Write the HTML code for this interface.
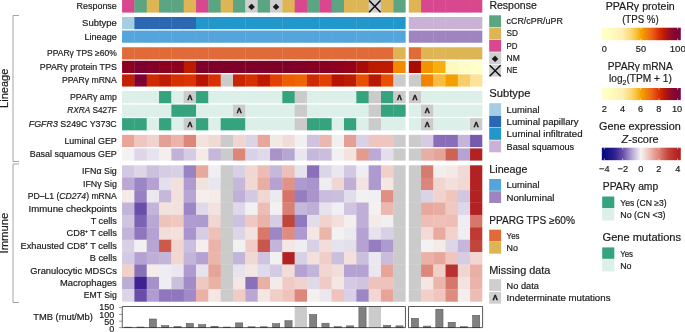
<!DOCTYPE html>
<html lang="en"><head><meta charset="utf-8"><title>PPAR&#947; heatmap</title>
<style>html,body{margin:0;padding:0;background:#fff}body{width:685px;height:332px;overflow:hidden}svg{display:block}text{font-family:'Liberation Sans', 'DejaVu Sans', sans-serif;fill:#1a1a1a;stroke:#1a1a1a;stroke-width:0.18px}</style>
</head><body>
<svg width="685" height="332" viewBox="0 0 685 332">
<defs>
<linearGradient id="gP" x1="0" x2="1" y1="0" y2="0"><stop offset="0" stop-color="#FFFFC8"/><stop offset="0.1" stop-color="#FFFCC0"/><stop offset="0.263" stop-color="#FDEFB0"/><stop offset="0.377" stop-color="#FAD670"/><stop offset="0.45" stop-color="#F7BC30"/><stop offset="0.491" stop-color="#F5A600"/><stop offset="0.55" stop-color="#F28C00"/><stop offset="0.607" stop-color="#EE7018"/><stop offset="0.67" stop-color="#E65010"/><stop offset="0.723" stop-color="#D83000"/><stop offset="0.78" stop-color="#C41C00"/><stop offset="0.84" stop-color="#A01020"/><stop offset="0.9" stop-color="#8A0830"/><stop offset="0.961" stop-color="#7D0038"/><stop offset="1" stop-color="#7A0A40"/></linearGradient>
<linearGradient id="gZ" x1="0" x2="1" y1="0" y2="0"><stop offset="0" stop-color="#0B0B80"/><stop offset="0.04" stop-color="#0B0B80"/><stop offset="0.16" stop-color="#2F2090"/><stop offset="0.27" stop-color="#6A50AC"/><stop offset="0.38" stop-color="#B5A4D3"/><stop offset="0.495" stop-color="#F6F4F4"/><stop offset="0.61" stop-color="#EDBBB2"/><stop offset="0.725" stop-color="#DD8276"/><stop offset="0.84" stop-color="#C4443A"/><stop offset="0.96" stop-color="#B22222"/><stop offset="1" stop-color="#B22222"/></linearGradient>
</defs>
<rect x="0" y="0" width="685" height="332" fill="#fff"/>
<g id="heat">
<rect x="122.05" y="0" width="12.63" height="12.6" fill="#D9478F"/>
<rect x="134.38" y="0" width="12.63" height="12.6" fill="#5BA582"/>
<rect x="146.71" y="0" width="12.63" height="12.6" fill="#DDB554"/>
<rect x="159.04" y="0" width="12.63" height="12.6" fill="#5BA582"/>
<rect x="171.37" y="0" width="12.63" height="12.6" fill="#5BA582"/>
<rect x="183.7" y="0" width="12.63" height="12.6" fill="#DDB554"/>
<rect x="196.03" y="0" width="12.63" height="12.6" fill="#D9478F"/>
<rect x="208.36" y="0" width="12.63" height="12.6" fill="#5BA582"/>
<rect x="220.69" y="0" width="12.63" height="12.6" fill="#DDB554"/>
<rect x="233.02" y="0" width="12.63" height="12.6" fill="#5BA582"/>
<rect x="245.35" y="0" width="12.63" height="12.6" fill="#CFCFCF"/>
<rect x="257.68" y="0" width="12.63" height="12.6" fill="#5BA582"/>
<rect x="270.01" y="0" width="12.63" height="12.6" fill="#CFCFCF"/>
<rect x="282.34" y="0" width="12.63" height="12.6" fill="#DDB554"/>
<rect x="294.67" y="0" width="12.63" height="12.6" fill="#D9478F"/>
<rect x="307" y="0" width="12.63" height="12.6" fill="#5BA582"/>
<rect x="319.33" y="0" width="12.63" height="12.6" fill="#D9478F"/>
<rect x="331.66" y="0" width="12.63" height="12.6" fill="#5BA582"/>
<rect x="343.99" y="0" width="12.63" height="12.6" fill="#DDB554"/>
<rect x="356.32" y="0" width="12.63" height="12.6" fill="#DDB554"/>
<rect x="368.65" y="0" width="12.63" height="12.6" fill="#CFCFCF"/>
<rect x="380.98" y="0" width="12.63" height="12.6" fill="#DDB554"/>
<rect x="393.31" y="0" width="12.33" height="12.6" fill="#5BA582"/>
<rect x="408.8" y="0" width="12.55" height="12.6" fill="#DDB554"/>
<rect x="421.05" y="0" width="12.55" height="12.6" fill="#D9478F"/>
<rect x="433.3" y="0" width="12.55" height="12.6" fill="#D9478F"/>
<rect x="445.55" y="0" width="12.55" height="12.6" fill="#D9478F"/>
<rect x="457.8" y="0" width="12.55" height="12.6" fill="#D9478F"/>
<rect x="470.05" y="0" width="12.25" height="12.6" fill="#D9478F"/>
<rect x="122.05" y="17" width="12.63" height="12.2" fill="#A6CEE3"/>
<rect x="134.38" y="17" width="12.63" height="12.2" fill="#2B68B2"/>
<rect x="146.71" y="17" width="12.63" height="12.2" fill="#2B68B2"/>
<rect x="159.04" y="17" width="12.63" height="12.2" fill="#2B68B2"/>
<rect x="171.37" y="17" width="12.63" height="12.2" fill="#2B68B2"/>
<rect x="183.7" y="17" width="12.63" height="12.2" fill="#2B68B2"/>
<rect x="196.03" y="17" width="12.63" height="12.2" fill="#2297CB"/>
<rect x="208.36" y="17" width="12.63" height="12.2" fill="#2297CB"/>
<rect x="220.69" y="17" width="12.63" height="12.2" fill="#2297CB"/>
<rect x="233.02" y="17" width="12.63" height="12.2" fill="#2297CB"/>
<rect x="245.35" y="17" width="12.63" height="12.2" fill="#2297CB"/>
<rect x="257.68" y="17" width="12.63" height="12.2" fill="#2297CB"/>
<rect x="270.01" y="17" width="12.63" height="12.2" fill="#2297CB"/>
<rect x="282.34" y="17" width="12.63" height="12.2" fill="#2297CB"/>
<rect x="294.67" y="17" width="12.63" height="12.2" fill="#2297CB"/>
<rect x="307" y="17" width="12.63" height="12.2" fill="#2297CB"/>
<rect x="319.33" y="17" width="12.63" height="12.2" fill="#2297CB"/>
<rect x="331.66" y="17" width="12.63" height="12.2" fill="#2297CB"/>
<rect x="343.99" y="17" width="12.63" height="12.2" fill="#2297CB"/>
<rect x="356.32" y="17" width="12.63" height="12.2" fill="#2297CB"/>
<rect x="368.65" y="17" width="12.63" height="12.2" fill="#2297CB"/>
<rect x="380.98" y="17" width="12.63" height="12.2" fill="#2297CB"/>
<rect x="393.31" y="17" width="12.33" height="12.2" fill="#2297CB"/>
<rect x="408.8" y="17" width="12.55" height="12.2" fill="#C9B2D6"/>
<rect x="421.05" y="17" width="12.55" height="12.2" fill="#C9B2D6"/>
<rect x="433.3" y="17" width="12.55" height="12.2" fill="#C9B2D6"/>
<rect x="445.55" y="17" width="12.55" height="12.2" fill="#C9B2D6"/>
<rect x="457.8" y="17" width="12.55" height="12.2" fill="#C9B2D6"/>
<rect x="470.05" y="17" width="12.25" height="12.2" fill="#C9B2D6"/>
<rect x="122.05" y="30.55" width="12.63" height="12.2" fill="#55A4DB"/>
<rect x="134.38" y="30.55" width="12.63" height="12.2" fill="#55A4DB"/>
<rect x="146.71" y="30.55" width="12.63" height="12.2" fill="#55A4DB"/>
<rect x="159.04" y="30.55" width="12.63" height="12.2" fill="#55A4DB"/>
<rect x="171.37" y="30.55" width="12.63" height="12.2" fill="#55A4DB"/>
<rect x="183.7" y="30.55" width="12.63" height="12.2" fill="#55A4DB"/>
<rect x="196.03" y="30.55" width="12.63" height="12.2" fill="#55A4DB"/>
<rect x="208.36" y="30.55" width="12.63" height="12.2" fill="#55A4DB"/>
<rect x="220.69" y="30.55" width="12.63" height="12.2" fill="#55A4DB"/>
<rect x="233.02" y="30.55" width="12.63" height="12.2" fill="#55A4DB"/>
<rect x="245.35" y="30.55" width="12.63" height="12.2" fill="#55A4DB"/>
<rect x="257.68" y="30.55" width="12.63" height="12.2" fill="#55A4DB"/>
<rect x="270.01" y="30.55" width="12.63" height="12.2" fill="#55A4DB"/>
<rect x="282.34" y="30.55" width="12.63" height="12.2" fill="#55A4DB"/>
<rect x="294.67" y="30.55" width="12.63" height="12.2" fill="#55A4DB"/>
<rect x="307" y="30.55" width="12.63" height="12.2" fill="#55A4DB"/>
<rect x="319.33" y="30.55" width="12.63" height="12.2" fill="#55A4DB"/>
<rect x="331.66" y="30.55" width="12.63" height="12.2" fill="#55A4DB"/>
<rect x="343.99" y="30.55" width="12.63" height="12.2" fill="#55A4DB"/>
<rect x="356.32" y="30.55" width="12.63" height="12.2" fill="#55A4DB"/>
<rect x="368.65" y="30.55" width="12.63" height="12.2" fill="#55A4DB"/>
<rect x="380.98" y="30.55" width="12.63" height="12.2" fill="#55A4DB"/>
<rect x="393.31" y="30.55" width="12.33" height="12.2" fill="#55A4DB"/>
<rect x="408.8" y="30.55" width="12.55" height="12.2" fill="#9E85BF"/>
<rect x="421.05" y="30.55" width="12.55" height="12.2" fill="#9E85BF"/>
<rect x="433.3" y="30.55" width="12.55" height="12.2" fill="#9E85BF"/>
<rect x="445.55" y="30.55" width="12.55" height="12.2" fill="#9E85BF"/>
<rect x="457.8" y="30.55" width="12.55" height="12.2" fill="#9E85BF"/>
<rect x="470.05" y="30.55" width="12.25" height="12.2" fill="#9E85BF"/>
<rect x="122.05" y="47.25" width="12.63" height="12.2" fill="#E06B38"/>
<rect x="134.38" y="47.25" width="12.63" height="12.2" fill="#E06B38"/>
<rect x="146.71" y="47.25" width="12.63" height="12.2" fill="#E06B38"/>
<rect x="159.04" y="47.25" width="12.63" height="12.2" fill="#E06B38"/>
<rect x="171.37" y="47.25" width="12.63" height="12.2" fill="#E06B38"/>
<rect x="183.7" y="47.25" width="12.63" height="12.2" fill="#E06B38"/>
<rect x="196.03" y="47.25" width="12.63" height="12.2" fill="#E06B38"/>
<rect x="208.36" y="47.25" width="12.63" height="12.2" fill="#E06B38"/>
<rect x="220.69" y="47.25" width="12.63" height="12.2" fill="#E06B38"/>
<rect x="233.02" y="47.25" width="12.63" height="12.2" fill="#E06B38"/>
<rect x="245.35" y="47.25" width="12.63" height="12.2" fill="#E06B38"/>
<rect x="257.68" y="47.25" width="12.63" height="12.2" fill="#E06B38"/>
<rect x="270.01" y="47.25" width="12.63" height="12.2" fill="#E06B38"/>
<rect x="282.34" y="47.25" width="12.63" height="12.2" fill="#E06B38"/>
<rect x="294.67" y="47.25" width="12.63" height="12.2" fill="#E06B38"/>
<rect x="307" y="47.25" width="12.63" height="12.2" fill="#E06B38"/>
<rect x="319.33" y="47.25" width="12.63" height="12.2" fill="#E06B38"/>
<rect x="331.66" y="47.25" width="12.63" height="12.2" fill="#E06B38"/>
<rect x="343.99" y="47.25" width="12.63" height="12.2" fill="#E06B38"/>
<rect x="356.32" y="47.25" width="12.63" height="12.2" fill="#E06B38"/>
<rect x="368.65" y="47.25" width="12.63" height="12.2" fill="#E06B38"/>
<rect x="380.98" y="47.25" width="12.63" height="12.2" fill="#E06B38"/>
<rect x="393.31" y="47.25" width="12.33" height="12.2" fill="#DDB554"/>
<rect x="408.8" y="47.25" width="12.55" height="12.2" fill="#E06B38"/>
<rect x="421.05" y="47.25" width="12.55" height="12.2" fill="#DDB554"/>
<rect x="433.3" y="47.25" width="12.55" height="12.2" fill="#DDB554"/>
<rect x="445.55" y="47.25" width="12.55" height="12.2" fill="#DDB554"/>
<rect x="457.8" y="47.25" width="12.55" height="12.2" fill="#DDB554"/>
<rect x="470.05" y="47.25" width="12.25" height="12.2" fill="#DDB554"/>
<rect x="122.05" y="60.8" width="12.63" height="12.2" fill="#8C0020"/>
<rect x="134.38" y="60.8" width="12.63" height="12.2" fill="#7D0030"/>
<rect x="146.71" y="60.8" width="12.63" height="12.2" fill="#840028"/>
<rect x="159.04" y="60.8" width="12.63" height="12.2" fill="#8C0020"/>
<rect x="171.37" y="60.8" width="12.63" height="12.2" fill="#8C0020"/>
<rect x="183.7" y="60.8" width="12.63" height="12.2" fill="#BE1A00"/>
<rect x="196.03" y="60.8" width="12.63" height="12.2" fill="#7F0028"/>
<rect x="208.36" y="60.8" width="12.63" height="12.2" fill="#7F0028"/>
<rect x="220.69" y="60.8" width="12.63" height="12.2" fill="#7F0028"/>
<rect x="233.02" y="60.8" width="12.63" height="12.2" fill="#7F0028"/>
<rect x="245.35" y="60.8" width="12.63" height="12.2" fill="#7F0028"/>
<rect x="257.68" y="60.8" width="12.63" height="12.2" fill="#7F0028"/>
<rect x="270.01" y="60.8" width="12.63" height="12.2" fill="#7F0028"/>
<rect x="282.34" y="60.8" width="12.63" height="12.2" fill="#7F0028"/>
<rect x="294.67" y="60.8" width="12.63" height="12.2" fill="#820026"/>
<rect x="307" y="60.8" width="12.63" height="12.2" fill="#860024"/>
<rect x="319.33" y="60.8" width="12.63" height="12.2" fill="#8A0022"/>
<rect x="331.66" y="60.8" width="12.63" height="12.2" fill="#8E0020"/>
<rect x="343.99" y="60.8" width="12.63" height="12.2" fill="#960018"/>
<rect x="356.32" y="60.8" width="12.63" height="12.2" fill="#A80C08"/>
<rect x="368.65" y="60.8" width="12.63" height="12.2" fill="#BE1A00"/>
<rect x="380.98" y="60.8" width="12.63" height="12.2" fill="#BE1A00"/>
<rect x="393.31" y="60.8" width="12.33" height="12.2" fill="#F28A00"/>
<rect x="408.8" y="60.8" width="12.55" height="12.2" fill="#A80C00"/>
<rect x="421.05" y="60.8" width="12.55" height="12.2" fill="#F29400"/>
<rect x="433.3" y="60.8" width="12.55" height="12.2" fill="#F5B010"/>
<rect x="445.55" y="60.8" width="12.55" height="12.2" fill="#FFF8C0"/>
<rect x="457.8" y="60.8" width="12.55" height="12.2" fill="#FFFCC8"/>
<rect x="470.05" y="60.8" width="12.25" height="12.2" fill="#FFFFC8"/>
<rect x="122.05" y="74.35" width="12.63" height="12.2" fill="#C42000"/>
<rect x="134.38" y="74.35" width="12.63" height="12.2" fill="#7D0035"/>
<rect x="146.71" y="74.35" width="12.63" height="12.2" fill="#CE2A00"/>
<rect x="159.04" y="74.35" width="12.63" height="12.2" fill="#C01C00"/>
<rect x="171.37" y="74.35" width="12.63" height="12.2" fill="#D43000"/>
<rect x="183.7" y="74.35" width="12.63" height="12.2" fill="#DC3400"/>
<rect x="196.03" y="74.35" width="12.63" height="12.2" fill="#B81400"/>
<rect x="208.36" y="74.35" width="12.63" height="12.2" fill="#D83000"/>
<rect x="220.69" y="74.35" width="12.63" height="12.2" fill="#CBCBCB"/>
<rect x="233.02" y="74.35" width="12.63" height="12.2" fill="#C82400"/>
<rect x="245.35" y="74.35" width="12.63" height="12.2" fill="#D63000"/>
<rect x="257.68" y="74.35" width="12.63" height="12.2" fill="#BE1800"/>
<rect x="270.01" y="74.35" width="12.63" height="12.2" fill="#E24000"/>
<rect x="282.34" y="74.35" width="12.63" height="12.2" fill="#EC5E00"/>
<rect x="294.67" y="74.35" width="12.63" height="12.2" fill="#EE6400"/>
<rect x="307" y="74.35" width="12.63" height="12.2" fill="#CC2C00"/>
<rect x="319.33" y="74.35" width="12.63" height="12.2" fill="#E24000"/>
<rect x="331.66" y="74.35" width="12.63" height="12.2" fill="#B41400"/>
<rect x="343.99" y="74.35" width="12.63" height="12.2" fill="#BC1C00"/>
<rect x="356.32" y="74.35" width="12.63" height="12.2" fill="#E85000"/>
<rect x="368.65" y="74.35" width="12.63" height="12.2" fill="#B81800"/>
<rect x="380.98" y="74.35" width="12.63" height="12.2" fill="#E85000"/>
<rect x="393.31" y="74.35" width="12.33" height="12.2" fill="#CBCBCB"/>
<rect x="408.8" y="74.35" width="12.55" height="12.2" fill="#CBCBCB"/>
<rect x="421.05" y="74.35" width="12.55" height="12.2" fill="#F28400"/>
<rect x="433.3" y="74.35" width="12.55" height="12.2" fill="#F9BC40"/>
<rect x="445.55" y="74.35" width="12.55" height="12.2" fill="#F59E00"/>
<rect x="457.8" y="74.35" width="12.55" height="12.2" fill="#F9CC68"/>
<rect x="470.05" y="74.35" width="12.25" height="12.2" fill="#FBE398"/>
<rect x="122.05" y="91.05" width="12.63" height="12.2" fill="#DCEFE8"/>
<rect x="134.38" y="91.05" width="12.63" height="12.2" fill="#DCEFE8"/>
<rect x="146.71" y="91.05" width="12.63" height="12.2" fill="#DCEFE8"/>
<rect x="159.04" y="91.05" width="12.63" height="12.2" fill="#35A47E"/>
<rect x="171.37" y="91.05" width="12.63" height="12.2" fill="#DCEFE8"/>
<rect x="183.7" y="91.05" width="12.63" height="12.2" fill="#CBCBCB"/>
<rect x="196.03" y="91.05" width="12.63" height="12.2" fill="#35A47E"/>
<rect x="208.36" y="91.05" width="12.63" height="12.2" fill="#DCEFE8"/>
<rect x="220.69" y="91.05" width="12.63" height="12.2" fill="#DCEFE8"/>
<rect x="233.02" y="91.05" width="12.63" height="12.2" fill="#DCEFE8"/>
<rect x="245.35" y="91.05" width="12.63" height="12.2" fill="#DCEFE8"/>
<rect x="257.68" y="91.05" width="12.63" height="12.2" fill="#DCEFE8"/>
<rect x="270.01" y="91.05" width="12.63" height="12.2" fill="#DCEFE8"/>
<rect x="282.34" y="91.05" width="12.63" height="12.2" fill="#35A47E"/>
<rect x="294.67" y="91.05" width="12.63" height="12.2" fill="#CBCBCB"/>
<rect x="307" y="91.05" width="12.63" height="12.2" fill="#DCEFE8"/>
<rect x="319.33" y="91.05" width="12.63" height="12.2" fill="#DCEFE8"/>
<rect x="331.66" y="91.05" width="12.63" height="12.2" fill="#DCEFE8"/>
<rect x="343.99" y="91.05" width="12.63" height="12.2" fill="#DCEFE8"/>
<rect x="356.32" y="91.05" width="12.63" height="12.2" fill="#35A47E"/>
<rect x="368.65" y="91.05" width="12.63" height="12.2" fill="#CBCBCB"/>
<rect x="380.98" y="91.05" width="12.63" height="12.2" fill="#35A47E"/>
<rect x="393.31" y="91.05" width="12.33" height="12.2" fill="#CBCBCB"/>
<rect x="408.8" y="91.05" width="12.55" height="12.2" fill="#CBCBCB"/>
<rect x="421.05" y="91.05" width="12.55" height="12.2" fill="#DCEFE8"/>
<rect x="433.3" y="91.05" width="12.55" height="12.2" fill="#DCEFE8"/>
<rect x="445.55" y="91.05" width="12.55" height="12.2" fill="#DCEFE8"/>
<rect x="457.8" y="91.05" width="12.55" height="12.2" fill="#DCEFE8"/>
<rect x="470.05" y="91.05" width="12.25" height="12.2" fill="#DCEFE8"/>
<rect x="122.05" y="104.6" width="12.63" height="12.2" fill="#DCEFE8"/>
<rect x="134.38" y="104.6" width="12.63" height="12.2" fill="#DCEFE8"/>
<rect x="146.71" y="104.6" width="12.63" height="12.2" fill="#DCEFE8"/>
<rect x="159.04" y="104.6" width="12.63" height="12.2" fill="#DCEFE8"/>
<rect x="171.37" y="104.6" width="12.63" height="12.2" fill="#35A47E"/>
<rect x="183.7" y="104.6" width="12.63" height="12.2" fill="#35A47E"/>
<rect x="196.03" y="104.6" width="12.63" height="12.2" fill="#DCEFE8"/>
<rect x="208.36" y="104.6" width="12.63" height="12.2" fill="#DCEFE8"/>
<rect x="220.69" y="104.6" width="12.63" height="12.2" fill="#DCEFE8"/>
<rect x="233.02" y="104.6" width="12.63" height="12.2" fill="#CBCBCB"/>
<rect x="245.35" y="104.6" width="12.63" height="12.2" fill="#DCEFE8"/>
<rect x="257.68" y="104.6" width="12.63" height="12.2" fill="#DCEFE8"/>
<rect x="270.01" y="104.6" width="12.63" height="12.2" fill="#DCEFE8"/>
<rect x="282.34" y="104.6" width="12.63" height="12.2" fill="#DCEFE8"/>
<rect x="294.67" y="104.6" width="12.63" height="12.2" fill="#CBCBCB"/>
<rect x="307" y="104.6" width="12.63" height="12.2" fill="#DCEFE8"/>
<rect x="319.33" y="104.6" width="12.63" height="12.2" fill="#DCEFE8"/>
<rect x="331.66" y="104.6" width="12.63" height="12.2" fill="#DCEFE8"/>
<rect x="343.99" y="104.6" width="12.63" height="12.2" fill="#DCEFE8"/>
<rect x="356.32" y="104.6" width="12.63" height="12.2" fill="#DCEFE8"/>
<rect x="368.65" y="104.6" width="12.63" height="12.2" fill="#CBCBCB"/>
<rect x="380.98" y="104.6" width="12.63" height="12.2" fill="#35A47E"/>
<rect x="393.31" y="104.6" width="12.33" height="12.2" fill="#35A47E"/>
<rect x="408.8" y="104.6" width="12.55" height="12.2" fill="#DCEFE8"/>
<rect x="421.05" y="104.6" width="12.55" height="12.2" fill="#CBCBCB"/>
<rect x="433.3" y="104.6" width="12.55" height="12.2" fill="#DCEFE8"/>
<rect x="445.55" y="104.6" width="12.55" height="12.2" fill="#DCEFE8"/>
<rect x="457.8" y="104.6" width="12.55" height="12.2" fill="#DCEFE8"/>
<rect x="470.05" y="104.6" width="12.25" height="12.2" fill="#DCEFE8"/>
<rect x="122.05" y="118.15" width="12.63" height="12.2" fill="#35A47E"/>
<rect x="134.38" y="118.15" width="12.63" height="12.2" fill="#35A47E"/>
<rect x="146.71" y="118.15" width="12.63" height="12.2" fill="#DCEFE8"/>
<rect x="159.04" y="118.15" width="12.63" height="12.2" fill="#35A47E"/>
<rect x="171.37" y="118.15" width="12.63" height="12.2" fill="#DCEFE8"/>
<rect x="183.7" y="118.15" width="12.63" height="12.2" fill="#CBCBCB"/>
<rect x="196.03" y="118.15" width="12.63" height="12.2" fill="#35A47E"/>
<rect x="208.36" y="118.15" width="12.63" height="12.2" fill="#DCEFE8"/>
<rect x="220.69" y="118.15" width="12.63" height="12.2" fill="#35A47E"/>
<rect x="233.02" y="118.15" width="12.63" height="12.2" fill="#35A47E"/>
<rect x="245.35" y="118.15" width="12.63" height="12.2" fill="#DCEFE8"/>
<rect x="257.68" y="118.15" width="12.63" height="12.2" fill="#DCEFE8"/>
<rect x="270.01" y="118.15" width="12.63" height="12.2" fill="#DCEFE8"/>
<rect x="282.34" y="118.15" width="12.63" height="12.2" fill="#DCEFE8"/>
<rect x="294.67" y="118.15" width="12.63" height="12.2" fill="#CBCBCB"/>
<rect x="307" y="118.15" width="12.63" height="12.2" fill="#35A47E"/>
<rect x="319.33" y="118.15" width="12.63" height="12.2" fill="#35A47E"/>
<rect x="331.66" y="118.15" width="12.63" height="12.2" fill="#DCEFE8"/>
<rect x="343.99" y="118.15" width="12.63" height="12.2" fill="#35A47E"/>
<rect x="356.32" y="118.15" width="12.63" height="12.2" fill="#DCEFE8"/>
<rect x="368.65" y="118.15" width="12.63" height="12.2" fill="#CBCBCB"/>
<rect x="380.98" y="118.15" width="12.63" height="12.2" fill="#DCEFE8"/>
<rect x="393.31" y="118.15" width="12.33" height="12.2" fill="#DCEFE8"/>
<rect x="408.8" y="118.15" width="12.55" height="12.2" fill="#DCEFE8"/>
<rect x="421.05" y="118.15" width="12.55" height="12.2" fill="#CBCBCB"/>
<rect x="433.3" y="118.15" width="12.55" height="12.2" fill="#DCEFE8"/>
<rect x="445.55" y="118.15" width="12.55" height="12.2" fill="#DCEFE8"/>
<rect x="457.8" y="118.15" width="12.55" height="12.2" fill="#DCEFE8"/>
<rect x="470.05" y="118.15" width="12.25" height="12.2" fill="#CBCBCB"/>
<rect x="122.05" y="134.85" width="12.63" height="12.2" fill="#E8A59A"/>
<rect x="134.38" y="134.85" width="12.63" height="12.2" fill="#EFC7C0"/>
<rect x="146.71" y="134.85" width="12.63" height="12.2" fill="#F0D2CE"/>
<rect x="159.04" y="134.85" width="12.63" height="12.2" fill="#E5A096"/>
<rect x="171.37" y="134.85" width="12.63" height="12.2" fill="#EAB4AB"/>
<rect x="183.7" y="134.85" width="12.63" height="12.2" fill="#DD877A"/>
<rect x="196.03" y="134.85" width="12.63" height="12.2" fill="#F3E2DE"/>
<rect x="208.36" y="134.85" width="12.63" height="12.2" fill="#F2DAD4"/>
<rect x="220.69" y="134.85" width="12.63" height="12.2" fill="#CBCBCB"/>
<rect x="233.02" y="134.85" width="12.63" height="12.2" fill="#F1D5D0"/>
<rect x="245.35" y="134.85" width="12.63" height="12.2" fill="#DCD4E6"/>
<rect x="257.68" y="134.85" width="12.63" height="12.2" fill="#E8A79B"/>
<rect x="270.01" y="134.85" width="12.63" height="12.2" fill="#F4E8E5"/>
<rect x="282.34" y="134.85" width="12.63" height="12.2" fill="#F2DCD8"/>
<rect x="294.67" y="134.85" width="12.63" height="12.2" fill="#F1F0F1"/>
<rect x="307" y="134.85" width="12.63" height="12.2" fill="#CEC4DF"/>
<rect x="319.33" y="134.85" width="12.63" height="12.2" fill="#EBB8AF"/>
<rect x="331.66" y="134.85" width="12.63" height="12.2" fill="#F1F0F1"/>
<rect x="343.99" y="134.85" width="12.63" height="12.2" fill="#E5A096"/>
<rect x="356.32" y="134.85" width="12.63" height="12.2" fill="#D9D1E6"/>
<rect x="368.65" y="134.85" width="12.63" height="12.2" fill="#EEC6BF"/>
<rect x="380.98" y="134.85" width="12.63" height="12.2" fill="#EEC6BF"/>
<rect x="393.31" y="134.85" width="12.33" height="12.2" fill="#CBCBCB"/>
<rect x="408.8" y="134.85" width="12.55" height="12.2" fill="#CBCBCB"/>
<rect x="421.05" y="134.85" width="12.55" height="12.2" fill="#D6CBE3"/>
<rect x="433.3" y="134.85" width="12.55" height="12.2" fill="#8A6DB8"/>
<rect x="445.55" y="134.85" width="12.55" height="12.2" fill="#8A6DB8"/>
<rect x="457.8" y="134.85" width="12.55" height="12.2" fill="#C6B5DA"/>
<rect x="470.05" y="134.85" width="12.25" height="12.2" fill="#775AAE"/>
<rect x="122.05" y="148.4" width="12.63" height="12.2" fill="#F4F1F1"/>
<rect x="134.38" y="148.4" width="12.63" height="12.2" fill="#DDD6E8"/>
<rect x="146.71" y="148.4" width="12.63" height="12.2" fill="#E6E2EE"/>
<rect x="159.04" y="148.4" width="12.63" height="12.2" fill="#F4EEEC"/>
<rect x="171.37" y="148.4" width="12.63" height="12.2" fill="#C2B2D8"/>
<rect x="183.7" y="148.4" width="12.63" height="12.2" fill="#D5CCE3"/>
<rect x="196.03" y="148.4" width="12.63" height="12.2" fill="#F4EBE8"/>
<rect x="208.36" y="148.4" width="12.63" height="12.2" fill="#C5B7DA"/>
<rect x="220.69" y="148.4" width="12.63" height="12.2" fill="#CBCBCB"/>
<rect x="233.02" y="148.4" width="12.63" height="12.2" fill="#DD8678"/>
<rect x="245.35" y="148.4" width="12.63" height="12.2" fill="#D9D1E6"/>
<rect x="257.68" y="148.4" width="12.63" height="12.2" fill="#DFD9E9"/>
<rect x="270.01" y="148.4" width="12.63" height="12.2" fill="#A893CA"/>
<rect x="282.34" y="148.4" width="12.63" height="12.2" fill="#B7A5D2"/>
<rect x="294.67" y="148.4" width="12.63" height="12.2" fill="#E9E6EF"/>
<rect x="307" y="148.4" width="12.63" height="12.2" fill="#C6B8DB"/>
<rect x="319.33" y="148.4" width="12.63" height="12.2" fill="#CABDDD"/>
<rect x="331.66" y="148.4" width="12.63" height="12.2" fill="#F2F1F2"/>
<rect x="343.99" y="148.4" width="12.63" height="12.2" fill="#F3E2DE"/>
<rect x="356.32" y="148.4" width="12.63" height="12.2" fill="#E39B8F"/>
<rect x="368.65" y="148.4" width="12.63" height="12.2" fill="#BBAAD5"/>
<rect x="380.98" y="148.4" width="12.63" height="12.2" fill="#E3DDEC"/>
<rect x="393.31" y="148.4" width="12.33" height="12.2" fill="#CBCBCB"/>
<rect x="408.8" y="148.4" width="12.55" height="12.2" fill="#CBCBCB"/>
<rect x="421.05" y="148.4" width="12.55" height="12.2" fill="#E6AFA5"/>
<rect x="433.3" y="148.4" width="12.55" height="12.2" fill="#E3A59A"/>
<rect x="445.55" y="148.4" width="12.55" height="12.2" fill="#CD6355"/>
<rect x="457.8" y="148.4" width="12.55" height="12.2" fill="#B7A3D3"/>
<rect x="470.05" y="148.4" width="12.25" height="12.2" fill="#B22222"/>
<rect x="122.05" y="165.3" width="12.63" height="12.7" fill="#D2C8E2"/>
<rect x="134.38" y="165.3" width="12.63" height="12.7" fill="#DCD6E8"/>
<rect x="146.71" y="165.3" width="12.63" height="12.7" fill="#CCC0DF"/>
<rect x="159.04" y="165.3" width="12.63" height="12.7" fill="#D6CDE4"/>
<rect x="171.37" y="165.3" width="12.63" height="12.7" fill="#D8D0E5"/>
<rect x="183.7" y="165.3" width="12.63" height="12.7" fill="#9A83C3"/>
<rect x="196.03" y="165.3" width="12.63" height="12.7" fill="#E8A99D"/>
<rect x="208.36" y="165.3" width="12.63" height="12.7" fill="#F0EFF3"/>
<rect x="220.69" y="165.3" width="12.63" height="12.7" fill="#CBCBCB"/>
<rect x="233.02" y="165.3" width="12.63" height="12.7" fill="#D8D0E5"/>
<rect x="245.35" y="165.3" width="12.63" height="12.7" fill="#F2D6D1"/>
<rect x="257.68" y="165.3" width="12.63" height="12.7" fill="#EDBDB5"/>
<rect x="270.01" y="165.3" width="12.63" height="12.7" fill="#C6B8DB"/>
<rect x="282.34" y="165.3" width="12.63" height="12.7" fill="#EEBFB7"/>
<rect x="294.67" y="165.3" width="12.63" height="12.7" fill="#E6E2EE"/>
<rect x="307" y="165.3" width="12.63" height="12.7" fill="#8A70BA"/>
<rect x="319.33" y="165.3" width="12.63" height="12.7" fill="#DCD5E8"/>
<rect x="331.66" y="165.3" width="12.63" height="12.7" fill="#EAE7F0"/>
<rect x="343.99" y="165.3" width="12.63" height="12.7" fill="#D2C8E2"/>
<rect x="356.32" y="165.3" width="12.63" height="12.7" fill="#EEEDF2"/>
<rect x="368.65" y="165.3" width="12.63" height="12.7" fill="#AE9ACF"/>
<rect x="380.98" y="165.3" width="12.63" height="12.7" fill="#F1D0CA"/>
<rect x="393.31" y="165.3" width="12.33" height="12.7" fill="#CBCBCB"/>
<rect x="408.8" y="165.3" width="12.55" height="12.7" fill="#CBCBCB"/>
<rect x="421.05" y="165.3" width="12.55" height="12.7" fill="#D67B70"/>
<rect x="433.3" y="165.3" width="12.55" height="12.7" fill="#F2EEEE"/>
<rect x="445.55" y="165.3" width="12.55" height="12.7" fill="#F3EAE8"/>
<rect x="457.8" y="165.3" width="12.55" height="12.7" fill="#F1DAD5"/>
<rect x="470.05" y="165.3" width="12.25" height="12.7" fill="#B22222"/>
<rect x="122.05" y="177.7" width="12.63" height="12.7" fill="#BBA9D5"/>
<rect x="134.38" y="177.7" width="12.63" height="12.7" fill="#9C85C4"/>
<rect x="146.71" y="177.7" width="12.63" height="12.7" fill="#B5A2D2"/>
<rect x="159.04" y="177.7" width="12.63" height="12.7" fill="#E4DFEC"/>
<rect x="171.37" y="177.7" width="12.63" height="12.7" fill="#F3E0DC"/>
<rect x="183.7" y="177.7" width="12.63" height="12.7" fill="#B09CD0"/>
<rect x="196.03" y="177.7" width="12.63" height="12.7" fill="#F3E3DF"/>
<rect x="208.36" y="177.7" width="12.63" height="12.7" fill="#EAE6EF"/>
<rect x="220.69" y="177.7" width="12.63" height="12.7" fill="#CBCBCB"/>
<rect x="233.02" y="177.7" width="12.63" height="12.7" fill="#C6B8DB"/>
<rect x="245.35" y="177.7" width="12.63" height="12.7" fill="#F2D8D3"/>
<rect x="257.68" y="177.7" width="12.63" height="12.7" fill="#E8AEA3"/>
<rect x="270.01" y="177.7" width="12.63" height="12.7" fill="#B5A2D2"/>
<rect x="282.34" y="177.7" width="12.63" height="12.7" fill="#E09488"/>
<rect x="294.67" y="177.7" width="12.63" height="12.7" fill="#AE9ACF"/>
<rect x="307" y="177.7" width="12.63" height="12.7" fill="#A994CC"/>
<rect x="319.33" y="177.7" width="12.63" height="12.7" fill="#EEEDF2"/>
<rect x="331.66" y="177.7" width="12.63" height="12.7" fill="#F2D6D1"/>
<rect x="343.99" y="177.7" width="12.63" height="12.7" fill="#BFAFD7"/>
<rect x="356.32" y="177.7" width="12.63" height="12.7" fill="#F4E4E0"/>
<rect x="368.65" y="177.7" width="12.63" height="12.7" fill="#AE9ACF"/>
<rect x="380.98" y="177.7" width="12.63" height="12.7" fill="#F4E6E3"/>
<rect x="393.31" y="177.7" width="12.33" height="12.7" fill="#CBCBCB"/>
<rect x="408.8" y="177.7" width="12.55" height="12.7" fill="#CBCBCB"/>
<rect x="421.05" y="177.7" width="12.55" height="12.7" fill="#DC857A"/>
<rect x="433.3" y="177.7" width="12.55" height="12.7" fill="#F1D5D0"/>
<rect x="445.55" y="177.7" width="12.55" height="12.7" fill="#F3DFDB"/>
<rect x="457.8" y="177.7" width="12.55" height="12.7" fill="#F2D8D3"/>
<rect x="470.05" y="177.7" width="12.25" height="12.7" fill="#B22222"/>
<rect x="122.05" y="190.1" width="12.63" height="12.7" fill="#F4EAE7"/>
<rect x="134.38" y="190.1" width="12.63" height="12.7" fill="#9881C2"/>
<rect x="146.71" y="190.1" width="12.63" height="12.7" fill="#EBE8EF"/>
<rect x="159.04" y="190.1" width="12.63" height="12.7" fill="#C6B8DB"/>
<rect x="171.37" y="190.1" width="12.63" height="12.7" fill="#F3DFDC"/>
<rect x="183.7" y="190.1" width="12.63" height="12.7" fill="#B7A5D3"/>
<rect x="196.03" y="190.1" width="12.63" height="12.7" fill="#F5EEEC"/>
<rect x="208.36" y="190.1" width="12.63" height="12.7" fill="#F4ECE9"/>
<rect x="220.69" y="190.1" width="12.63" height="12.7" fill="#CBCBCB"/>
<rect x="233.02" y="190.1" width="12.63" height="12.7" fill="#C0B0D8"/>
<rect x="245.35" y="190.1" width="12.63" height="12.7" fill="#D3C9E2"/>
<rect x="257.68" y="190.1" width="12.63" height="12.7" fill="#F2D6D2"/>
<rect x="270.01" y="190.1" width="12.63" height="12.7" fill="#ECEAF1"/>
<rect x="282.34" y="190.1" width="12.63" height="12.7" fill="#D77368"/>
<rect x="294.67" y="190.1" width="12.63" height="12.7" fill="#957DC0"/>
<rect x="307" y="190.1" width="12.63" height="12.7" fill="#A994CC"/>
<rect x="319.33" y="190.1" width="12.63" height="12.7" fill="#C9BCDD"/>
<rect x="331.66" y="190.1" width="12.63" height="12.7" fill="#CBBFDE"/>
<rect x="343.99" y="190.1" width="12.63" height="12.7" fill="#E2DDEB"/>
<rect x="356.32" y="190.1" width="12.63" height="12.7" fill="#F2F1F2"/>
<rect x="368.65" y="190.1" width="12.63" height="12.7" fill="#F0EFF2"/>
<rect x="380.98" y="190.1" width="12.63" height="12.7" fill="#E08F84"/>
<rect x="393.31" y="190.1" width="12.33" height="12.7" fill="#CBCBCB"/>
<rect x="408.8" y="190.1" width="12.55" height="12.7" fill="#CBCBCB"/>
<rect x="421.05" y="190.1" width="12.55" height="12.7" fill="#DAD3E7"/>
<rect x="433.3" y="190.1" width="12.55" height="12.7" fill="#F1D2CC"/>
<rect x="445.55" y="190.1" width="12.55" height="12.7" fill="#EFC5BE"/>
<rect x="457.8" y="190.1" width="12.55" height="12.7" fill="#D0C7E2"/>
<rect x="470.05" y="190.1" width="12.25" height="12.7" fill="#B22222"/>
<rect x="122.05" y="202.5" width="12.63" height="12.7" fill="#C3B4DA"/>
<rect x="134.38" y="202.5" width="12.63" height="12.7" fill="#6B4EA9"/>
<rect x="146.71" y="202.5" width="12.63" height="12.7" fill="#C3B4DA"/>
<rect x="159.04" y="202.5" width="12.63" height="12.7" fill="#F3E1DD"/>
<rect x="171.37" y="202.5" width="12.63" height="12.7" fill="#F3E1DD"/>
<rect x="183.7" y="202.5" width="12.63" height="12.7" fill="#9C86C4"/>
<rect x="196.03" y="202.5" width="12.63" height="12.7" fill="#DFD9EA"/>
<rect x="208.36" y="202.5" width="12.63" height="12.7" fill="#F3E2DF"/>
<rect x="220.69" y="202.5" width="12.63" height="12.7" fill="#CBCBCB"/>
<rect x="233.02" y="202.5" width="12.63" height="12.7" fill="#DFD8EA"/>
<rect x="245.35" y="202.5" width="12.63" height="12.7" fill="#F2F1F2"/>
<rect x="257.68" y="202.5" width="12.63" height="12.7" fill="#EDBDB5"/>
<rect x="270.01" y="202.5" width="12.63" height="12.7" fill="#F2F1F2"/>
<rect x="282.34" y="202.5" width="12.63" height="12.7" fill="#D98075"/>
<rect x="294.67" y="202.5" width="12.63" height="12.7" fill="#C6B8DB"/>
<rect x="307" y="202.5" width="12.63" height="12.7" fill="#BFAFD7"/>
<rect x="319.33" y="202.5" width="12.63" height="12.7" fill="#E6E2EE"/>
<rect x="331.66" y="202.5" width="12.63" height="12.7" fill="#F0EFF2"/>
<rect x="343.99" y="202.5" width="12.63" height="12.7" fill="#D0C5E1"/>
<rect x="356.32" y="202.5" width="12.63" height="12.7" fill="#BFAFD7"/>
<rect x="368.65" y="202.5" width="12.63" height="12.7" fill="#F4F0EF"/>
<rect x="380.98" y="202.5" width="12.63" height="12.7" fill="#ECB7AE"/>
<rect x="393.31" y="202.5" width="12.33" height="12.7" fill="#CBCBCB"/>
<rect x="408.8" y="202.5" width="12.55" height="12.7" fill="#CBCBCB"/>
<rect x="421.05" y="202.5" width="12.55" height="12.7" fill="#E7A89E"/>
<rect x="433.3" y="202.5" width="12.55" height="12.7" fill="#E8ACA2"/>
<rect x="445.55" y="202.5" width="12.55" height="12.7" fill="#EFC8C1"/>
<rect x="457.8" y="202.5" width="12.55" height="12.7" fill="#DDD7E9"/>
<rect x="470.05" y="202.5" width="12.25" height="12.7" fill="#B22222"/>
<rect x="122.05" y="214.9" width="12.63" height="12.7" fill="#CFC5E1"/>
<rect x="134.38" y="214.9" width="12.63" height="12.7" fill="#7C62B3"/>
<rect x="146.71" y="214.9" width="12.63" height="12.7" fill="#B9A7D4"/>
<rect x="159.04" y="214.9" width="12.63" height="12.7" fill="#EEC3BC"/>
<rect x="171.37" y="214.9" width="12.63" height="12.7" fill="#EFC8C1"/>
<rect x="183.7" y="214.9" width="12.63" height="12.7" fill="#B09CD0"/>
<rect x="196.03" y="214.9" width="12.63" height="12.7" fill="#AE9ACF"/>
<rect x="208.36" y="214.9" width="12.63" height="12.7" fill="#F2D6D1"/>
<rect x="220.69" y="214.9" width="12.63" height="12.7" fill="#CBCBCB"/>
<rect x="233.02" y="214.9" width="12.63" height="12.7" fill="#CDC1DF"/>
<rect x="245.35" y="214.9" width="12.63" height="12.7" fill="#EFC8C2"/>
<rect x="257.68" y="214.9" width="12.63" height="12.7" fill="#EAB2A8"/>
<rect x="270.01" y="214.9" width="12.63" height="12.7" fill="#D6CDE4"/>
<rect x="282.34" y="214.9" width="12.63" height="12.7" fill="#C0453A"/>
<rect x="294.67" y="214.9" width="12.63" height="12.7" fill="#9079BE"/>
<rect x="307" y="214.9" width="12.63" height="12.7" fill="#E2DDEB"/>
<rect x="319.33" y="214.9" width="12.63" height="12.7" fill="#F2D2CC"/>
<rect x="331.66" y="214.9" width="12.63" height="12.7" fill="#F3DFDB"/>
<rect x="343.99" y="214.9" width="12.63" height="12.7" fill="#F4EFEE"/>
<rect x="356.32" y="214.9" width="12.63" height="12.7" fill="#BFAFD7"/>
<rect x="368.65" y="214.9" width="12.63" height="12.7" fill="#F4EAE7"/>
<rect x="380.98" y="214.9" width="12.63" height="12.7" fill="#F0EFF2"/>
<rect x="393.31" y="214.9" width="12.33" height="12.7" fill="#CBCBCB"/>
<rect x="408.8" y="214.9" width="12.55" height="12.7" fill="#CBCBCB"/>
<rect x="421.05" y="214.9" width="12.55" height="12.7" fill="#EEBDB5"/>
<rect x="433.3" y="214.9" width="12.55" height="12.7" fill="#EEC0B8"/>
<rect x="445.55" y="214.9" width="12.55" height="12.7" fill="#EEBDB5"/>
<rect x="457.8" y="214.9" width="12.55" height="12.7" fill="#EFEDF2"/>
<rect x="470.05" y="214.9" width="12.25" height="12.7" fill="#D6776C"/>
<rect x="122.05" y="227.3" width="12.63" height="12.7" fill="#C3B4DA"/>
<rect x="134.38" y="227.3" width="12.63" height="12.7" fill="#8F76BD"/>
<rect x="146.71" y="227.3" width="12.63" height="12.7" fill="#B5A2D2"/>
<rect x="159.04" y="227.3" width="12.63" height="12.7" fill="#F3DDD9"/>
<rect x="171.37" y="227.3" width="12.63" height="12.7" fill="#F3E0DC"/>
<rect x="183.7" y="227.3" width="12.63" height="12.7" fill="#A994CC"/>
<rect x="196.03" y="227.3" width="12.63" height="12.7" fill="#D6CDE4"/>
<rect x="208.36" y="227.3" width="12.63" height="12.7" fill="#EEC0B8"/>
<rect x="220.69" y="227.3" width="12.63" height="12.7" fill="#CBCBCB"/>
<rect x="233.02" y="227.3" width="12.63" height="12.7" fill="#DCD5E8"/>
<rect x="245.35" y="227.3" width="12.63" height="12.7" fill="#F3E3DF"/>
<rect x="257.68" y="227.3" width="12.63" height="12.7" fill="#D9776A"/>
<rect x="270.01" y="227.3" width="12.63" height="12.7" fill="#9C86C4"/>
<rect x="282.34" y="227.3" width="12.63" height="12.7" fill="#DF8C80"/>
<rect x="294.67" y="227.3" width="12.63" height="12.7" fill="#AE9ACF"/>
<rect x="307" y="227.3" width="12.63" height="12.7" fill="#F4E6E3"/>
<rect x="319.33" y="227.3" width="12.63" height="12.7" fill="#EBB5AC"/>
<rect x="331.66" y="227.3" width="12.63" height="12.7" fill="#F2F1F2"/>
<rect x="343.99" y="227.3" width="12.63" height="12.7" fill="#ECEAF1"/>
<rect x="356.32" y="227.3" width="12.63" height="12.7" fill="#B5A2D2"/>
<rect x="368.65" y="227.3" width="12.63" height="12.7" fill="#E6E2EE"/>
<rect x="380.98" y="227.3" width="12.63" height="12.7" fill="#D8D0E5"/>
<rect x="393.31" y="227.3" width="12.33" height="12.7" fill="#CBCBCB"/>
<rect x="408.8" y="227.3" width="12.55" height="12.7" fill="#CBCBCB"/>
<rect x="421.05" y="227.3" width="12.55" height="12.7" fill="#F3DAD5"/>
<rect x="433.3" y="227.3" width="12.55" height="12.7" fill="#E9A99F"/>
<rect x="445.55" y="227.3" width="12.55" height="12.7" fill="#F1D2CC"/>
<rect x="457.8" y="227.3" width="12.55" height="12.7" fill="#EFEEF2"/>
<rect x="470.05" y="227.3" width="12.25" height="12.7" fill="#BF3A32"/>
<rect x="122.05" y="239.7" width="12.63" height="12.7" fill="#D8D0E5"/>
<rect x="134.38" y="239.7" width="12.63" height="12.7" fill="#F2F1F2"/>
<rect x="146.71" y="239.7" width="12.63" height="12.7" fill="#B7A5D3"/>
<rect x="159.04" y="239.7" width="12.63" height="12.7" fill="#CC5A4C"/>
<rect x="171.37" y="239.7" width="12.63" height="12.7" fill="#F2D5D0"/>
<rect x="183.7" y="239.7" width="12.63" height="12.7" fill="#CBBEDE"/>
<rect x="196.03" y="239.7" width="12.63" height="12.7" fill="#F4EFEE"/>
<rect x="208.36" y="239.7" width="12.63" height="12.7" fill="#EBB3AA"/>
<rect x="220.69" y="239.7" width="12.63" height="12.7" fill="#CBCBCB"/>
<rect x="233.02" y="239.7" width="12.63" height="12.7" fill="#F2F1F2"/>
<rect x="245.35" y="239.7" width="12.63" height="12.7" fill="#F0CDC7"/>
<rect x="257.68" y="239.7" width="12.63" height="12.7" fill="#C9564A"/>
<rect x="270.01" y="239.7" width="12.63" height="12.7" fill="#C3B4DA"/>
<rect x="282.34" y="239.7" width="12.63" height="12.7" fill="#F4E6E3"/>
<rect x="294.67" y="239.7" width="12.63" height="12.7" fill="#EEEDF2"/>
<rect x="307" y="239.7" width="12.63" height="12.7" fill="#D8D0E5"/>
<rect x="319.33" y="239.7" width="12.63" height="12.7" fill="#F3DDD9"/>
<rect x="331.66" y="239.7" width="12.63" height="12.7" fill="#E6E2EE"/>
<rect x="343.99" y="239.7" width="12.63" height="12.7" fill="#E4DFEC"/>
<rect x="356.32" y="239.7" width="12.63" height="12.7" fill="#B5A2D2"/>
<rect x="368.65" y="239.7" width="12.63" height="12.7" fill="#957DC0"/>
<rect x="380.98" y="239.7" width="12.63" height="12.7" fill="#AE9ACF"/>
<rect x="393.31" y="239.7" width="12.33" height="12.7" fill="#CBCBCB"/>
<rect x="408.8" y="239.7" width="12.55" height="12.7" fill="#CBCBCB"/>
<rect x="421.05" y="239.7" width="12.55" height="12.7" fill="#F3F2F3"/>
<rect x="433.3" y="239.7" width="12.55" height="12.7" fill="#F4EAE7"/>
<rect x="445.55" y="239.7" width="12.55" height="12.7" fill="#DDD6E9"/>
<rect x="457.8" y="239.7" width="12.55" height="12.7" fill="#C5B7DC"/>
<rect x="470.05" y="239.7" width="12.25" height="12.7" fill="#C3443A"/>
<rect x="122.05" y="252.1" width="12.63" height="12.7" fill="#D4CAE3"/>
<rect x="134.38" y="252.1" width="12.63" height="12.7" fill="#B5A2D2"/>
<rect x="146.71" y="252.1" width="12.63" height="12.7" fill="#BFAFD7"/>
<rect x="159.04" y="252.1" width="12.63" height="12.7" fill="#C3B4DA"/>
<rect x="171.37" y="252.1" width="12.63" height="12.7" fill="#F2D6D1"/>
<rect x="183.7" y="252.1" width="12.63" height="12.7" fill="#C3B4DA"/>
<rect x="196.03" y="252.1" width="12.63" height="12.7" fill="#B5A2D2"/>
<rect x="208.36" y="252.1" width="12.63" height="12.7" fill="#EBB5AC"/>
<rect x="220.69" y="252.1" width="12.63" height="12.7" fill="#CBCBCB"/>
<rect x="233.02" y="252.1" width="12.63" height="12.7" fill="#C3B4DA"/>
<rect x="245.35" y="252.1" width="12.63" height="12.7" fill="#F2D8D3"/>
<rect x="257.68" y="252.1" width="12.63" height="12.7" fill="#CEC3E0"/>
<rect x="270.01" y="252.1" width="12.63" height="12.7" fill="#F2F1F2"/>
<rect x="282.34" y="252.1" width="12.63" height="12.7" fill="#B22222"/>
<rect x="294.67" y="252.1" width="12.63" height="12.7" fill="#D8D0E5"/>
<rect x="307" y="252.1" width="12.63" height="12.7" fill="#F3DFDB"/>
<rect x="319.33" y="252.1" width="12.63" height="12.7" fill="#F0CDC7"/>
<rect x="331.66" y="252.1" width="12.63" height="12.7" fill="#CBBFDE"/>
<rect x="343.99" y="252.1" width="12.63" height="12.7" fill="#F3E0DC"/>
<rect x="356.32" y="252.1" width="12.63" height="12.7" fill="#CBBFDE"/>
<rect x="368.65" y="252.1" width="12.63" height="12.7" fill="#EAE7F0"/>
<rect x="380.98" y="252.1" width="12.63" height="12.7" fill="#C9BCDD"/>
<rect x="393.31" y="252.1" width="12.33" height="12.7" fill="#CBCBCB"/>
<rect x="408.8" y="252.1" width="12.55" height="12.7" fill="#CBCBCB"/>
<rect x="421.05" y="252.1" width="12.55" height="12.7" fill="#EBB0A6"/>
<rect x="433.3" y="252.1" width="12.55" height="12.7" fill="#E8A79C"/>
<rect x="445.55" y="252.1" width="12.55" height="12.7" fill="#EFC5BE"/>
<rect x="457.8" y="252.1" width="12.55" height="12.7" fill="#D6CDE5"/>
<rect x="470.05" y="252.1" width="12.25" height="12.7" fill="#F2D6D1"/>
<rect x="122.05" y="264.5" width="12.63" height="12.7" fill="#F1D0CA"/>
<rect x="134.38" y="264.5" width="12.63" height="12.7" fill="#8A70BA"/>
<rect x="146.71" y="264.5" width="12.63" height="12.7" fill="#F4ECEA"/>
<rect x="159.04" y="264.5" width="12.63" height="12.7" fill="#EEEDF2"/>
<rect x="171.37" y="264.5" width="12.63" height="12.7" fill="#EAE7F0"/>
<rect x="183.7" y="264.5" width="12.63" height="12.7" fill="#AF9BCF"/>
<rect x="196.03" y="264.5" width="12.63" height="12.7" fill="#E6E2EE"/>
<rect x="208.36" y="264.5" width="12.63" height="12.7" fill="#E6A398"/>
<rect x="220.69" y="264.5" width="12.63" height="12.7" fill="#CBCBCB"/>
<rect x="233.02" y="264.5" width="12.63" height="12.7" fill="#E6E2EE"/>
<rect x="245.35" y="264.5" width="12.63" height="12.7" fill="#F4E6E3"/>
<rect x="257.68" y="264.5" width="12.63" height="12.7" fill="#E0DAEA"/>
<rect x="270.01" y="264.5" width="12.63" height="12.7" fill="#D4CAE3"/>
<rect x="282.34" y="264.5" width="12.63" height="12.7" fill="#F3DDD9"/>
<rect x="294.67" y="264.5" width="12.63" height="12.7" fill="#B5A2D2"/>
<rect x="307" y="264.5" width="12.63" height="12.7" fill="#C3B4DA"/>
<rect x="319.33" y="264.5" width="12.63" height="12.7" fill="#F2D6D1"/>
<rect x="331.66" y="264.5" width="12.63" height="12.7" fill="#F3DDD9"/>
<rect x="343.99" y="264.5" width="12.63" height="12.7" fill="#B5A2D2"/>
<rect x="356.32" y="264.5" width="12.63" height="12.7" fill="#B5A2D2"/>
<rect x="368.65" y="264.5" width="12.63" height="12.7" fill="#EAE7F0"/>
<rect x="380.98" y="264.5" width="12.63" height="12.7" fill="#E8A499"/>
<rect x="393.31" y="264.5" width="12.33" height="12.7" fill="#CBCBCB"/>
<rect x="408.8" y="264.5" width="12.55" height="12.7" fill="#CBCBCB"/>
<rect x="421.05" y="264.5" width="12.55" height="12.7" fill="#DE887C"/>
<rect x="433.3" y="264.5" width="12.55" height="12.7" fill="#F1D0CA"/>
<rect x="445.55" y="264.5" width="12.55" height="12.7" fill="#B93030"/>
<rect x="457.8" y="264.5" width="12.55" height="12.7" fill="#F1D5D0"/>
<rect x="470.05" y="264.5" width="12.25" height="12.7" fill="#EAAFA5"/>
<rect x="122.05" y="276.9" width="12.63" height="12.7" fill="#BDACD6"/>
<rect x="134.38" y="276.9" width="12.63" height="12.7" fill="#3F2290"/>
<rect x="146.71" y="276.9" width="12.63" height="12.7" fill="#A691CA"/>
<rect x="159.04" y="276.9" width="12.63" height="12.7" fill="#EEEDF2"/>
<rect x="171.37" y="276.9" width="12.63" height="12.7" fill="#CBBFDE"/>
<rect x="183.7" y="276.9" width="12.63" height="12.7" fill="#A28CC8"/>
<rect x="196.03" y="276.9" width="12.63" height="12.7" fill="#EFC8C1"/>
<rect x="208.36" y="276.9" width="12.63" height="12.7" fill="#EBB0A6"/>
<rect x="220.69" y="276.9" width="12.63" height="12.7" fill="#CBCBCB"/>
<rect x="233.02" y="276.9" width="12.63" height="12.7" fill="#F4E6E3"/>
<rect x="245.35" y="276.9" width="12.63" height="12.7" fill="#8A70BA"/>
<rect x="257.68" y="276.9" width="12.63" height="12.7" fill="#EAAFA5"/>
<rect x="270.01" y="276.9" width="12.63" height="12.7" fill="#F4EAE7"/>
<rect x="282.34" y="276.9" width="12.63" height="12.7" fill="#F0CAC4"/>
<rect x="294.67" y="276.9" width="12.63" height="12.7" fill="#F2D2CC"/>
<rect x="307" y="276.9" width="12.63" height="12.7" fill="#DFD9EA"/>
<rect x="319.33" y="276.9" width="12.63" height="12.7" fill="#F0CAC4"/>
<rect x="331.66" y="276.9" width="12.63" height="12.7" fill="#F4E6E3"/>
<rect x="343.99" y="276.9" width="12.63" height="12.7" fill="#D4CAE3"/>
<rect x="356.32" y="276.9" width="12.63" height="12.7" fill="#D0C5E1"/>
<rect x="368.65" y="276.9" width="12.63" height="12.7" fill="#EFC3BC"/>
<rect x="380.98" y="276.9" width="12.63" height="12.7" fill="#EFC3BC"/>
<rect x="393.31" y="276.9" width="12.33" height="12.7" fill="#CBCBCB"/>
<rect x="408.8" y="276.9" width="12.55" height="12.7" fill="#CBCBCB"/>
<rect x="421.05" y="276.9" width="12.55" height="12.7" fill="#F4E6E3"/>
<rect x="433.3" y="276.9" width="12.55" height="12.7" fill="#ECB5AC"/>
<rect x="445.55" y="276.9" width="12.55" height="12.7" fill="#D6776C"/>
<rect x="457.8" y="276.9" width="12.55" height="12.7" fill="#F3E3E0"/>
<rect x="470.05" y="276.9" width="12.25" height="12.7" fill="#EBB3A9"/>
<rect x="122.05" y="289.3" width="12.63" height="12.4" fill="#DCD5E8"/>
<rect x="134.38" y="289.3" width="12.63" height="12.4" fill="#6A4DA8"/>
<rect x="146.71" y="289.3" width="12.63" height="12.4" fill="#B09CD0"/>
<rect x="159.04" y="289.3" width="12.63" height="12.4" fill="#8F76BD"/>
<rect x="171.37" y="289.3" width="12.63" height="12.4" fill="#8F76BD"/>
<rect x="183.7" y="289.3" width="12.63" height="12.4" fill="#A08AC7"/>
<rect x="196.03" y="289.3" width="12.63" height="12.4" fill="#EBB0A6"/>
<rect x="208.36" y="289.3" width="12.63" height="12.4" fill="#F4E6E3"/>
<rect x="220.69" y="289.3" width="12.63" height="12.4" fill="#CBCBCB"/>
<rect x="233.02" y="289.3" width="12.63" height="12.4" fill="#F0CCC5"/>
<rect x="245.35" y="289.3" width="12.63" height="12.4" fill="#B9A7D4"/>
<rect x="257.68" y="289.3" width="12.63" height="12.4" fill="#F4E6E3"/>
<rect x="270.01" y="289.3" width="12.63" height="12.4" fill="#F1CFC9"/>
<rect x="282.34" y="289.3" width="12.63" height="12.4" fill="#EFC3BC"/>
<rect x="294.67" y="289.3" width="12.63" height="12.4" fill="#DD877A"/>
<rect x="307" y="289.3" width="12.63" height="12.4" fill="#F4F0EF"/>
<rect x="319.33" y="289.3" width="12.63" height="12.4" fill="#EAE7F0"/>
<rect x="331.66" y="289.3" width="12.63" height="12.4" fill="#EFC3BC"/>
<rect x="343.99" y="289.3" width="12.63" height="12.4" fill="#D8D0E5"/>
<rect x="356.32" y="289.3" width="12.63" height="12.4" fill="#9C86C4"/>
<rect x="368.65" y="289.3" width="12.63" height="12.4" fill="#F2D6D1"/>
<rect x="380.98" y="289.3" width="12.63" height="12.4" fill="#E8A499"/>
<rect x="393.31" y="289.3" width="12.33" height="12.4" fill="#CBCBCB"/>
<rect x="408.8" y="289.3" width="12.55" height="12.4" fill="#CBCBCB"/>
<rect x="421.05" y="289.3" width="12.55" height="12.4" fill="#F1D0CA"/>
<rect x="433.3" y="289.3" width="12.55" height="12.4" fill="#EFC5BE"/>
<rect x="445.55" y="289.3" width="12.55" height="12.4" fill="#DF8C80"/>
<rect x="457.8" y="289.3" width="12.55" height="12.4" fill="#F4EEEC"/>
<rect x="470.05" y="289.3" width="12.25" height="12.4" fill="#EDBDB5"/>
</g>
<g id="marks" fill="#111">
<text transform="translate(189.86 99.65) scale(1.15 1)" font-size="6.4" font-weight="700" text-anchor="middle" style="fill:#111;stroke:#111;stroke-width:0.32px">&#923;</text>
<text transform="translate(399.48 99.65) scale(1.15 1)" font-size="6.4" font-weight="700" text-anchor="middle" style="fill:#111;stroke:#111;stroke-width:0.32px">&#923;</text>
<text transform="translate(414.93 99.65) scale(1.15 1)" font-size="6.4" font-weight="700" text-anchor="middle" style="fill:#111;stroke:#111;stroke-width:0.32px">&#923;</text>
<text transform="translate(239.18 113.2) scale(1.15 1)" font-size="6.4" font-weight="700" text-anchor="middle" style="fill:#111;stroke:#111;stroke-width:0.32px">&#923;</text>
<text transform="translate(427.18 113.2) scale(1.15 1)" font-size="6.4" font-weight="700" text-anchor="middle" style="fill:#111;stroke:#111;stroke-width:0.32px">&#923;</text>
<text transform="translate(189.86 126.75) scale(1.15 1)" font-size="6.4" font-weight="700" text-anchor="middle" style="fill:#111;stroke:#111;stroke-width:0.32px">&#923;</text>
<text transform="translate(427.18 126.75) scale(1.15 1)" font-size="6.4" font-weight="700" text-anchor="middle" style="fill:#111;stroke:#111;stroke-width:0.32px">&#923;</text>
<text transform="translate(476.18 126.75) scale(1.15 1)" font-size="6.4" font-weight="700" text-anchor="middle" style="fill:#111;stroke:#111;stroke-width:0.32px">&#923;</text>
<text x="251.51" y="9.2" font-size="8" text-anchor="middle" font-family="'DejaVu Sans',sans-serif" fill="#111">&#9670;</text>
<text x="276.18" y="9.2" font-size="8" text-anchor="middle" font-family="'DejaVu Sans',sans-serif" fill="#111">&#9670;</text>
<path d="M369.05 0.4 L380.58 12.2 M380.58 0.4 L369.05 12.2" stroke="#111" stroke-width="1.5" fill="none"/>
</g>
<g id="rowlabels">
<text x="76.6" y="9.15" font-size="8.6" text-anchor="start" textLength="40.2" lengthAdjust="spacingAndGlyphs">Response</text>
<text x="82.1" y="25.95" font-size="8.6" text-anchor="start" textLength="34.7" lengthAdjust="spacingAndGlyphs">Subtype</text>
<text x="84.5" y="39.5" font-size="8.6" text-anchor="start" textLength="32.3" lengthAdjust="spacingAndGlyphs">Lineage</text>
<text x="47.1" y="56.15" font-size="8.6" text-anchor="start" textLength="69.7" lengthAdjust="spacingAndGlyphs">PPAR&#947; TPS &#8805;60%</text>
<text x="39.8" y="69.65" font-size="8.6" text-anchor="start" textLength="77" lengthAdjust="spacingAndGlyphs">PPAR&#947; protein TPS</text>
<text x="62" y="83.2" font-size="8.6" text-anchor="start" textLength="54.8" lengthAdjust="spacingAndGlyphs">PPAR&#947; mRNA</text>
<text x="69.9" y="100" font-size="8.6" text-anchor="start" textLength="46.9" lengthAdjust="spacingAndGlyphs">PPAR&#947; amp</text>
<text x="67.2" y="113.45" font-size="8.6" text-anchor="start" textLength="49.6" lengthAdjust="spacingAndGlyphs"><tspan font-style="italic">RXRA</tspan> S427F</text>
<text x="28.8" y="126.95" font-size="8.6" text-anchor="start" textLength="88" lengthAdjust="spacingAndGlyphs"><tspan font-style="italic">FGFR3</tspan> S249C Y373C</text>
<text x="64.4" y="143.75" font-size="8.6" text-anchor="start" textLength="52.4" lengthAdjust="spacingAndGlyphs">Luminal GEP</text>
<text x="29.7" y="157.35" font-size="8.6" text-anchor="start" textLength="87.1" lengthAdjust="spacingAndGlyphs">Basal squamous GEP</text>
<text x="82.1" y="174.45" font-size="8.6" text-anchor="start" textLength="34.7" lengthAdjust="spacingAndGlyphs">IFN&#945; Sig</text>
<text x="83" y="186.75" font-size="8.6" text-anchor="start" textLength="33.8" lengthAdjust="spacingAndGlyphs">IFN&#947; Sig</text>
<text x="27.7" y="199.15" font-size="8.6" text-anchor="start" textLength="89.1" lengthAdjust="spacingAndGlyphs">PD&#8211;L1 (<tspan font-style="italic">CD274</tspan>) mRNA</text>
<text x="28.6" y="211.55" font-size="8.6" text-anchor="start" textLength="88.2" lengthAdjust="spacingAndGlyphs">Immune checkpoints</text>
<text x="90.7" y="223.95" font-size="8.6" text-anchor="start" textLength="26.1" lengthAdjust="spacingAndGlyphs">T cells</text>
<text x="66.6" y="236.35" font-size="8.6" text-anchor="start" textLength="50.2" lengthAdjust="spacingAndGlyphs">CD8<tspan font-size="4.6" dy="-3.6">+</tspan><tspan dy="3.6"> T cells</tspan></text>
<text x="20.6" y="248.85" font-size="8.6" text-anchor="start" textLength="96.2" lengthAdjust="spacingAndGlyphs">Exhausted CD8<tspan font-size="4.6" dy="-3.6">+</tspan><tspan dy="3.6"> T cells</tspan></text>
<text x="89.8" y="261.05" font-size="8.6" text-anchor="start" textLength="27" lengthAdjust="spacingAndGlyphs">B cells</text>
<text x="30.3" y="273.55" font-size="8.6" text-anchor="start" textLength="86.5" lengthAdjust="spacingAndGlyphs">Granulocytic MDSCs</text>
<text x="60" y="285.85" font-size="8.6" text-anchor="start" textLength="56.8" lengthAdjust="spacingAndGlyphs">Macrophages</text>
<text x="83.8" y="298.15" font-size="8.6" text-anchor="start" textLength="33" lengthAdjust="spacingAndGlyphs">EMT Sig</text>
<text x="33.3" y="319.9" font-size="8.6" text-anchor="start" textLength="59.6" lengthAdjust="spacingAndGlyphs">TMB (mut/Mb)</text>
</g>
<g id="groups">
<text transform="translate(8.2 107.9) rotate(-90)" font-size="10" textLength="39.2" lengthAdjust="spacingAndGlyphs">Lineage</text>
<text transform="translate(8.2 253.4) rotate(-90)" font-size="10" textLength="40.7" lengthAdjust="spacingAndGlyphs">Immune</text>
<path d="M19 15.5 H13 V161.5 H19 M19 164 H13 V302.5 H19" stroke="#6a6a6a" stroke-width="0.6" fill="none"/>
</g>
<g id="tmb">
<rect x="294.67" y="306.5" width="12.33" height="21.1" fill="#CBCBCB"/>
<rect x="368.65" y="306.5" width="12.33" height="21.1" fill="#CBCBCB"/>
<rect x="124.62" y="327.1" width="7.2" height="0.5" fill="#808080" stroke="#4d4d4d" stroke-width="0.5"/>
<rect x="136.94" y="327" width="7.2" height="0.6" fill="#808080" stroke="#4d4d4d" stroke-width="0.5"/>
<rect x="149.28" y="319" width="7.2" height="8.6" fill="#808080" stroke="#4d4d4d" stroke-width="0.5"/>
<rect x="161.6" y="325.6" width="7.2" height="2" fill="#808080" stroke="#4d4d4d" stroke-width="0.5"/>
<rect x="173.94" y="326.5" width="7.2" height="1.1" fill="#808080" stroke="#4d4d4d" stroke-width="0.5"/>
<rect x="186.26" y="323.4" width="7.2" height="4.2" fill="#808080" stroke="#4d4d4d" stroke-width="0.5"/>
<rect x="198.59" y="324.6" width="7.2" height="3" fill="#808080" stroke="#4d4d4d" stroke-width="0.5"/>
<rect x="210.93" y="326.2" width="7.2" height="1.4" fill="#808080" stroke="#4d4d4d" stroke-width="0.5"/>
<rect x="223.25" y="327" width="7.2" height="0.6" fill="#808080" stroke="#4d4d4d" stroke-width="0.5"/>
<rect x="235.58" y="322.9" width="7.2" height="4.7" fill="#808080" stroke="#4d4d4d" stroke-width="0.5"/>
<rect x="247.91" y="326.8" width="7.2" height="0.8" fill="#808080" stroke="#4d4d4d" stroke-width="0.5"/>
<rect x="260.25" y="326.8" width="7.2" height="0.8" fill="#808080" stroke="#4d4d4d" stroke-width="0.5"/>
<rect x="272.57" y="323.7" width="7.2" height="3.9" fill="#808080" stroke="#4d4d4d" stroke-width="0.5"/>
<rect x="284.9" y="320.7" width="7.2" height="6.9" fill="#808080" stroke="#4d4d4d" stroke-width="0.5"/>
<rect x="309.56" y="314.5" width="7.2" height="13.1" fill="#808080" stroke="#4d4d4d" stroke-width="0.5"/>
<rect x="321.89" y="323.2" width="7.2" height="4.4" fill="#808080" stroke="#4d4d4d" stroke-width="0.5"/>
<rect x="334.23" y="326.7" width="7.2" height="0.9" fill="#808080" stroke="#4d4d4d" stroke-width="0.5"/>
<rect x="346.56" y="325.85" width="7.2" height="1.75" fill="#808080" stroke="#4d4d4d" stroke-width="0.5"/>
<rect x="358.88" y="307.6" width="7.2" height="20" fill="#808080" stroke="#4d4d4d" stroke-width="0.5"/>
<rect x="383.55" y="325.3" width="7.2" height="2.3" fill="#808080" stroke="#4d4d4d" stroke-width="0.5"/>
<rect x="395.88" y="325.85" width="7.2" height="1.75" fill="#808080" stroke="#4d4d4d" stroke-width="0.5"/>
<rect x="411.32" y="318.3" width="7.2" height="9.3" fill="#808080" stroke="#4d4d4d" stroke-width="0.5"/>
<rect x="423.57" y="326.1" width="7.2" height="1.5" fill="#808080" stroke="#4d4d4d" stroke-width="0.5"/>
<rect x="435.82" y="309.2" width="7.2" height="18.4" fill="#808080" stroke="#4d4d4d" stroke-width="0.5"/>
<rect x="448.07" y="322.3" width="7.2" height="5.3" fill="#808080" stroke="#4d4d4d" stroke-width="0.5"/>
<rect x="460.32" y="326.7" width="7.2" height="0.9" fill="#808080" stroke="#4d4d4d" stroke-width="0.5"/>
<rect x="472.57" y="315.3" width="7.2" height="12.3" fill="#808080" stroke="#4d4d4d" stroke-width="0.5"/>
<path d="M122.25 306.5 H405.44 V327.6 H122.25 Z" stroke="#222" stroke-width="0.75" fill="none"/>
<path d="M408.5 306.5 H482.6 V327.6 H408.5 Z" stroke="#222" stroke-width="0.75" fill="none"/>
<path d="M119.1 307.6 H122.25" stroke="#555" stroke-width="0.6"/>
<text x="114.2" y="310.35" font-size="9" text-anchor="end">150</text>
<path d="M119.1 314.4 H122.25" stroke="#555" stroke-width="0.6"/>
<text x="114.2" y="317.65" font-size="9" text-anchor="end">100</text>
<path d="M119.1 321.2 H122.25" stroke="#555" stroke-width="0.6"/>
<text x="114.2" y="324.85" font-size="9" text-anchor="end">50</text>
<path d="M119.1 327.6 H122.25" stroke="#555" stroke-width="0.6"/>
<text x="114.2" y="331.85" font-size="9" text-anchor="end">0</text>
</g>
<g id="legend1">
<text x="489.4" y="9.2" font-size="10" text-anchor="start" textLength="47.4" lengthAdjust="spacingAndGlyphs">Response</text>
<rect x="489.2" y="15.3" width="11.9" height="11.8" fill="#5BA582"/>
<text x="506.6" y="23.8" font-size="8.6" text-anchor="start" textLength="56.2" lengthAdjust="spacingAndGlyphs">cCR/cPR/uPR</text>
<rect x="489.2" y="27.6" width="11.9" height="11.8" fill="#DDB554"/>
<text x="506.6" y="36.1" font-size="8.6" text-anchor="start" textLength="11.4" lengthAdjust="spacingAndGlyphs">SD</text>
<rect x="489.2" y="39.9" width="11.9" height="11.8" fill="#D9478F"/>
<text x="506.6" y="48.5" font-size="8.6" text-anchor="start" textLength="11" lengthAdjust="spacingAndGlyphs">PD</text>
<rect x="489.2" y="52.3" width="11.9" height="11.8" fill="#CFCFCF"/>
<text x="495.15" y="61.1" font-size="8" text-anchor="middle" font-family="'DejaVu Sans',sans-serif" fill="#111">&#9670;</text>
<text x="506.6" y="60.8" font-size="8.6" text-anchor="start" textLength="13.3" lengthAdjust="spacingAndGlyphs">NM</text>
<rect x="489.2" y="64.8" width="11.9" height="11.8" fill="#CFCFCF"/>
<path d="M489.6 65.2 L500.7 76.2 M500.7 65.2 L489.6 76.2" stroke="#111" stroke-width="1.5" fill="none"/>
<text x="506.6" y="73.3" font-size="8.6" text-anchor="start" textLength="10.9" lengthAdjust="spacingAndGlyphs">NE</text>
<text x="489.3" y="96.6" font-size="10" text-anchor="start" textLength="41.1" lengthAdjust="spacingAndGlyphs">Subtype</text>
<rect x="489.2" y="103.2" width="11.9" height="11.8" fill="#A6CEE3"/>
<text x="506.6" y="112.5" font-size="8.6" text-anchor="start" textLength="32.9" lengthAdjust="spacingAndGlyphs">Luminal</text>
<rect x="489.2" y="115.6" width="11.9" height="11.8" fill="#2B68B2"/>
<text x="506.6" y="125" font-size="8.6" text-anchor="start" textLength="71.9" lengthAdjust="spacingAndGlyphs">Luminal papillary</text>
<rect x="489.2" y="128" width="11.9" height="11.8" fill="#2297CB"/>
<text x="506.6" y="137.4" font-size="8.6" text-anchor="start" textLength="76" lengthAdjust="spacingAndGlyphs">Luminal infiltrated</text>
<rect x="489.2" y="140.5" width="11.9" height="11.8" fill="#C9B2D6"/>
<text x="506.6" y="150" font-size="8.6" text-anchor="start" textLength="67.6" lengthAdjust="spacingAndGlyphs">Basal squamous</text>
<text x="489.3" y="172.5" font-size="10" text-anchor="start" textLength="38.2" lengthAdjust="spacingAndGlyphs">Lineage</text>
<rect x="489.2" y="179" width="11.9" height="11.8" fill="#55A4DB"/>
<text x="506.6" y="187.9" font-size="8.6" text-anchor="start" textLength="32.9" lengthAdjust="spacingAndGlyphs">Luminal</text>
<rect x="489.2" y="191.2" width="11.9" height="11.8" fill="#9E85BF"/>
<text x="506.6" y="200.6" font-size="8.6" text-anchor="start" textLength="47.9" lengthAdjust="spacingAndGlyphs">Nonluminal</text>
<text x="489.3" y="223.5" font-size="10" text-anchor="start" textLength="85.6" lengthAdjust="spacingAndGlyphs">PPARG TPS &#8805;60%</text>
<rect x="489.2" y="229.7" width="11.9" height="11.8" fill="#E06B38"/>
<text x="506.6" y="238.6" font-size="8.6" text-anchor="start" textLength="13" lengthAdjust="spacingAndGlyphs">Yes</text>
<rect x="489.2" y="241.9" width="11.9" height="11.8" fill="#DDB554"/>
<text x="506.6" y="251" font-size="8.6" text-anchor="start" textLength="11.4" lengthAdjust="spacingAndGlyphs">No</text>
<text x="489.3" y="273.6" font-size="10" text-anchor="start" textLength="61.1" lengthAdjust="spacingAndGlyphs">Missing data</text>
<rect x="489.2" y="279.1" width="11.9" height="11.8" fill="#CFCFCF"/>
<text x="506.6" y="288.5" font-size="8.6" text-anchor="start" textLength="32.3" lengthAdjust="spacingAndGlyphs">No data</text>
<rect x="489.2" y="291.9" width="11.9" height="11.8" fill="#CFCFCF"/>
<text transform="translate(495.15 300.3) scale(1.15 1)" font-size="6.4" font-weight="700" text-anchor="middle" style="fill:#111;stroke:#111;stroke-width:0.32px">&#923;</text>
<text x="506.6" y="301.3" font-size="8.6" text-anchor="start" textLength="103.9" lengthAdjust="spacingAndGlyphs">Indeterminate mutations</text>
</g>
<g id="legend2">
<text x="640.2" y="9.7" font-size="10" text-anchor="middle" textLength="69" lengthAdjust="spacingAndGlyphs">PPAR&#947; protein</text>
<text x="640.4" y="22.5" font-size="10" text-anchor="middle" textLength="36.5" lengthAdjust="spacingAndGlyphs">(TPS %)</text>
<rect x="601.8" y="27.7" width="79" height="12.5" fill="url(#gP)"/>
<path d="M605.3 27.7 v1.6 M605.3 40.2 v-1.6" stroke="#fff" stroke-width="0.6"/>
<path d="M641 27.7 v1.6 M641 40.2 v-1.6" stroke="#fff" stroke-width="0.6"/>
<path d="M677.7 27.7 v1.6 M677.7 40.2 v-1.6" stroke="#fff" stroke-width="0.6"/>
<text x="604.3" y="51.6" font-size="9.2" text-anchor="middle">0</text>
<text x="640.9" y="51.6" font-size="9.2" text-anchor="middle">50</text>
<text x="669.7" y="51.6" font-size="9.2" text-anchor="start" textLength="16.2" lengthAdjust="spacingAndGlyphs">100</text>
<text x="640.3" y="69.8" font-size="10" text-anchor="middle" textLength="65" lengthAdjust="spacingAndGlyphs">PPAR&#947; mRNA</text>
<text x="609" y="82.3" font-size="10" text-anchor="start" textLength="62.8" lengthAdjust="spacingAndGlyphs">log<tspan font-size="6.8" dy="3">2</tspan><tspan dy="-3">(TPM + 1)</tspan></text>
<rect x="601.8" y="88" width="79" height="12.1" fill="url(#gP)"/>
<path d="M604.3 88 v1.6 M604.3 100.1 v-1.6" stroke="#fff" stroke-width="0.6"/>
<path d="M622.6 88 v1.6 M622.6 100.1 v-1.6" stroke="#fff" stroke-width="0.6"/>
<path d="M640.6 88 v1.6 M640.6 100.1 v-1.6" stroke="#fff" stroke-width="0.6"/>
<path d="M658.9 88 v1.6 M658.9 100.1 v-1.6" stroke="#fff" stroke-width="0.6"/>
<path d="M677.7 88 v1.6 M677.7 100.1 v-1.6" stroke="#fff" stroke-width="0.6"/>
<text x="604.3" y="111.7" font-size="9.2" text-anchor="middle">2</text>
<text x="622.6" y="111.7" font-size="9.2" text-anchor="middle">4</text>
<text x="640.6" y="111.7" font-size="9.2" text-anchor="middle">6</text>
<text x="658.9" y="111.7" font-size="9.2" text-anchor="middle">8</text>
<text x="677" y="111.7" font-size="9.2" text-anchor="middle">10</text>
<text x="599" y="130" font-size="10" text-anchor="start" textLength="81.8" lengthAdjust="spacingAndGlyphs">Gene expression</text>
<text x="621.6" y="142.5" font-size="10" text-anchor="start" textLength="37.1" lengthAdjust="spacingAndGlyphs"><tspan font-style="italic">Z</tspan>-score</text>
<rect x="601.8" y="147.7" width="79" height="12.5" fill="url(#gZ)"/>
<path d="M604.3 147.7 v1.6 M604.3 160.2 v-1.6" stroke="#fff" stroke-width="0.6"/>
<path d="M622.6 147.7 v1.6 M622.6 160.2 v-1.6" stroke="#fff" stroke-width="0.6"/>
<path d="M640.6 147.7 v1.6 M640.6 160.2 v-1.6" stroke="#fff" stroke-width="0.6"/>
<path d="M658.9 147.7 v1.6 M658.9 160.2 v-1.6" stroke="#fff" stroke-width="0.6"/>
<path d="M677.7 147.7 v1.6 M677.7 160.2 v-1.6" stroke="#fff" stroke-width="0.6"/>
<text x="604.3" y="171.5" font-size="9.2" text-anchor="middle">&#8722;4</text>
<text x="622.8" y="171.5" font-size="9.2" text-anchor="middle">&#8722;2</text>
<text x="640.9" y="171.5" font-size="9.2" text-anchor="middle">0</text>
<text x="658.9" y="171.5" font-size="9.2" text-anchor="middle">2</text>
<text x="677.7" y="171.5" font-size="9.2" text-anchor="middle">4</text>
<text x="602.8" y="190.1" font-size="10" text-anchor="start" textLength="55.4" lengthAdjust="spacingAndGlyphs">PPAR&#947; amp</text>
<rect x="602.2" y="196.5" width="12.1" height="11.7" fill="#35A47E"/>
<rect x="602.2" y="208.5" width="12.1" height="12" fill="#DCEFE8"/>
<text x="620.2" y="205.7" font-size="8.6" text-anchor="start" textLength="46.5" lengthAdjust="spacingAndGlyphs">Yes (CN &#8805;3)</text>
<text x="620.2" y="218.4" font-size="8.6" text-anchor="start" textLength="45.4" lengthAdjust="spacingAndGlyphs">No (CN &lt;3)</text>
<text x="602.5" y="241" font-size="10" text-anchor="start" textLength="78.6" lengthAdjust="spacingAndGlyphs">Gene mutations</text>
<rect x="602.2" y="247.4" width="12.1" height="11.4" fill="#35A47E"/>
<rect x="602.2" y="259" width="12.1" height="12.5" fill="#DCEFE8"/>
<text x="620.2" y="256.6" font-size="8.6" text-anchor="start" textLength="12.8" lengthAdjust="spacingAndGlyphs">Yes</text>
<text x="620.2" y="268.8" font-size="8.6" text-anchor="start" textLength="11.4" lengthAdjust="spacingAndGlyphs">No</text>
</g>
</svg>
</body></html>
